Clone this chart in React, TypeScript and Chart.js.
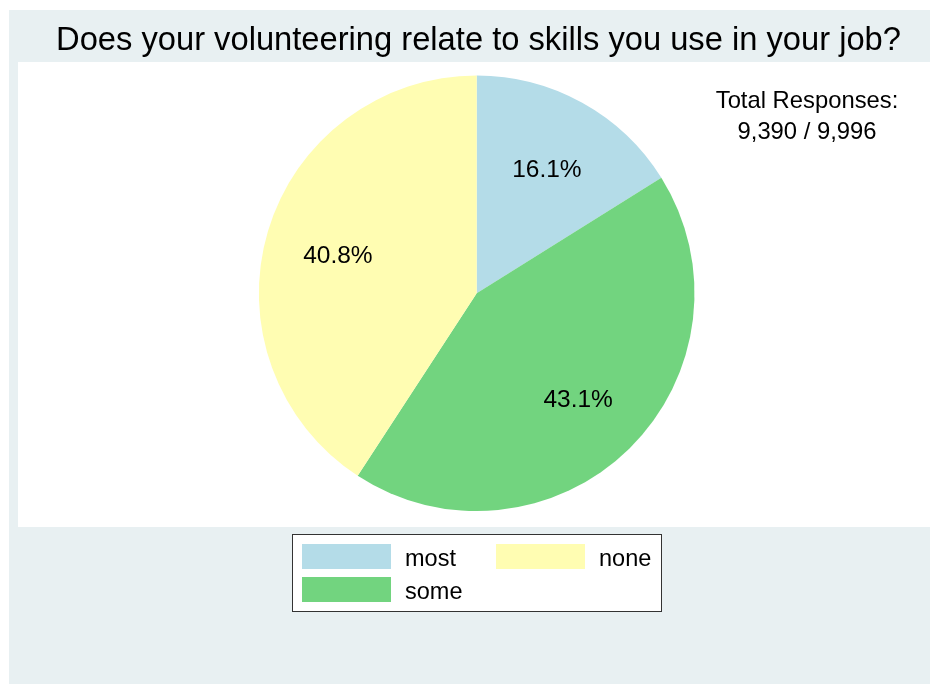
import React, { useEffect, useRef } from "react";
import { Chart, registerables } from "chart.js";

Chart.register(...registerables);

const TITLE = "Does your volunteering relate to skills you use in your job?";
const categories = ["most", "some", "none"];
const percentages = [16.1, 43.1, 40.8];
const sliceColors = ["#b4dce8", "#72d47f", "#fffdb2"];
const legendOrder = ["most", "none", "some"];
const totalLines = ["Total Responses:", "9,390 / 9,996"];

const FONT = "'Liberation Sans', Arial, Helvetica, sans-serif";

const decorPlugin = {
  id: "decor",
  beforeDraw(chart: any) {
    const ctx = chart.ctx as CanvasRenderingContext2D;
    ctx.save();
    ctx.fillStyle = "#ffffff";
    ctx.fillRect(0, 0, chart.width, chart.height);
    ctx.fillStyle = "#e8f0f2";
    ctx.fillRect(9, 10, chart.width - 9, chart.height - 10);
    ctx.fillStyle = "#ffffff";
    ctx.fillRect(18, 62, chart.width - 18, 465);

    ctx.fillStyle = "#000000";
    ctx.font = `32.7px ${FONT}`;
    ctx.textAlign = "center";
    ctx.textBaseline = "alphabetic";
    ctx.fillText(TITLE, 478.5, 49.5);

    ctx.font = `23.8px ${FONT}`;
    ctx.fillText(totalLines[0], 807, 108);
    ctx.fillText(totalLines[1], 807, 138.5);

    // legend
    ctx.fillStyle = "#ffffff";
    ctx.fillRect(292.5, 534.5, 369, 77);
    ctx.strokeStyle = "#333333";
    ctx.lineWidth = 1;
    ctx.strokeRect(292.5, 534.5, 369, 77);
    const pos = [
      { sx: 302, sy: 544, tx: 405, ty: 565.7 },
      { sx: 496, sy: 544, tx: 599, ty: 565.7 },
      { sx: 302, sy: 577, tx: 405, ty: 598.7 },
    ];
    ctx.textAlign = "left";
    legendOrder.forEach((name, i) => {
      const idx = categories.indexOf(name);
      const p = pos[i];
      ctx.fillStyle = sliceColors[idx];
      ctx.fillRect(p.sx, p.sy, 89, 25);
      ctx.fillStyle = "#000000";
      ctx.font = `23.5px ${FONT}`;
      ctx.fillText(name, p.tx, p.ty);
    });
    ctx.restore();
  },
  afterDatasetsDraw(chart: any) {
    const ctx = chart.ctx as CanvasRenderingContext2D;
    const meta = chart.getDatasetMeta(0);
    ctx.save();
    ctx.fillStyle = "#000000";
    ctx.font = `24.5px ${FONT}`;
    ctx.textAlign = "center";
    ctx.textBaseline = "alphabetic";
    meta.data.forEach((arc: any, i: number) => {
      const { x, y, startAngle, endAngle, outerRadius } = arc.getProps(
        ["x", "y", "startAngle", "endAngle", "outerRadius"],
        true
      );
      const mid = (startAngle + endAngle) / 2;
      const r = outerRadius * 0.665;
      ctx.fillText(
        percentages[i].toFixed(1) + "%",
        x + Math.cos(mid) * r,
        y + Math.sin(mid) * r + 10.5
      );
    });
    ctx.restore();
  },
};

export default function App() {
  const ref = useRef<HTMLCanvasElement | null>(null);
  useEffect(() => {
    document.body.style.margin = "0";
    if (!ref.current) return;
    const chart = new Chart(ref.current, {
      type: "pie",
      data: {
        labels: categories,
        datasets: [
          {
            data: percentages,
            backgroundColor: sliceColors,
            borderWidth: 0,
            hoverBorderWidth: 0,
            hoverOffset: 0,
          },
        ],
      },
      options: {
        responsive: false,
        animation: false,
        events: [],
        layout: {
          padding: { left: 258.7, right: 235.3, top: 75.5, bottom: 172.9 },
        },
        plugins: {
          legend: { display: false },
          title: { display: false },
          tooltip: { enabled: false },
        },
      },
      plugins: [decorPlugin],
    });
    return () => chart.destroy();
  }, []);
  return (
    <div style={{ width: 930, height: 684 }}>
      <canvas ref={ref} width={930} height={684} style={{ display: "block" }} />
    </div>
  );
}
